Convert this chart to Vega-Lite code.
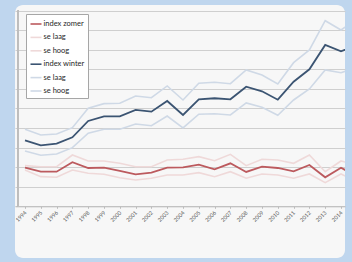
{
  "$schema": "https://vega.github.io/schema/vega-lite/v6.json",
  "width": 330,
  "height": 253,
  "autosize": {"type": "none"},
  "padding": {"left": 15, "top": 5, "right": 7, "bottom": 4},
  "background": "#bfd6ee",
  "config": {
    "view": {"fill": "#f7f7f7", "stroke": null, "cornerRadius": 8},
    "font": "Lato"
  },
  "data": {
    "values": [
      {"year": 1994, "index zomer": 98.7, "zomer: se laag": 92.8, "zomer: se hoog": 103.8, "index winter": 168.7, "winter: se laag": 141.4, "winter: se hoog": 196.8},
      {"year": 1995, "index zomer": 88.4, "zomer: se laag": 75.7, "zomer: se hoog": 101.2, "index winter": 155.9, "winter: se laag": 130.4, "winter: se hoog": 182.3},
      {"year": 1996, "index zomer": 88.4, "zomer: se laag": 74.1, "zomer: se hoog": 101.2, "index winter": 160.0, "winter: se laag": 133.7, "winter: se hoog": 184.8},
      {"year": 1997, "index zomer": 112.5, "zomer: se laag": 92.8, "zomer: se hoog": 131.1, "index winter": 176.4, "winter: se laag": 149.8, "winter: se hoog": 200.9},
      {"year": 1998, "index zomer": 97.9, "zomer: se laag": 84.4, "zomer: se hoog": 115.8, "index winter": 218.0, "winter: se laag": 186.6, "winter: se hoog": 250.5},
      {"year": 1999, "index zomer": 98.7, "zomer: se laag": 81.8, "zomer: se hoog": 115.8, "index winter": 230.0, "winter: se laag": 196.8, "winter: se hoog": 262.3},
      {"year": 2000, "index zomer": 90.2, "zomer: se laag": 73.1, "zomer: se hoog": 109.9, "index winter": 230.0, "winter: se laag": 196.8, "winter: se hoog": 263.3},
      {"year": 2001, "index zomer": 81.8, "zomer: se laag": 67.2, "zomer: se hoog": 101.2, "index winter": 246.2, "winter: se laag": 210.4, "winter: se hoog": 281.9},
      {"year": 2002, "index zomer": 85.9, "zomer: se laag": 71.6, "zomer: se hoog": 101.2, "index winter": 241.8, "winter: se laag": 206.0, "winter: se hoog": 277.6},
      {"year": 2003, "index zomer": 98.7, "zomer: se laag": 80.0, "zomer: se hoog": 118.4, "index winter": 269.2, "winter: se laag": 230.8, "winter: se hoog": 307.5},
      {"year": 2004, "index zomer": 99.7, "zomer: se laag": 80.0, "zomer: se hoog": 120.1, "index winter": 233.4, "winter: se laag": 200.2, "winter: se hoog": 271.7},
      {"year": 2005, "index zomer": 106.3, "zomer: se laag": 85.9, "zomer: se hoog": 126.8, "index winter": 273.5, "winter: se laag": 235.2, "winter: se hoog": 314.4},
      {"year": 2006, "index zomer": 94.6, "zomer: se laag": 75.7, "zomer: se hoog": 116.6, "index winter": 276.1, "winter: se laag": 236.7, "winter: se hoog": 317.0},
      {"year": 2007, "index zomer": 109.9, "zomer: se laag": 88.4, "zomer: se hoog": 132.9, "index winter": 273.5, "winter: se laag": 233.4, "winter: se hoog": 313.4},
      {"year": 2008, "index zomer": 87.7, "zomer: se laag": 71.6, "zomer: se hoog": 103.8, "index winter": 305.7, "winter: se laag": 264.1, "winter: se hoog": 348.4},
      {"year": 2009, "index zomer": 101.2, "zomer: se laag": 82.6, "zomer: se hoog": 120.1, "index winter": 294.0, "winter: se laag": 253.1, "winter: se hoog": 335.6},
      {"year": 2010, "index zomer": 97.9, "zomer: se laag": 80.0, "zomer: se hoog": 118.4, "index winter": 272.5, "winter: se laag": 232.6, "winter: se hoog": 312.6},
      {"year": 2011, "index zomer": 89.5, "zomer: se laag": 71.6, "zomer: se hoog": 109.9, "index winter": 318.5, "winter: se laag": 271.7, "winter: se hoog": 367.1},
      {"year": 2012, "index zomer": 105.6, "zomer: se laag": 82.6, "zomer: se hoog": 131.1, "index winter": 350.2, "winter: se laag": 299.8, "winter: se hoog": 399.5},
      {"year": 2013, "index zomer": 74.1, "zomer: se laag": 60.3, "zomer: se hoog": 88.4, "index winter": 412.3, "winter: se laag": 348.4, "winter: se hoog": 474.4},
      {"year": 2014, "index zomer": 98.7, "zomer: se laag": 82.6, "zomer: se hoog": 115.8, "index winter": 396.2, "winter: se laag": 341.5, "winter: se hoog": 450.7},
      {"year": 2015, "index zomer": 76.4, "zomer: se laag": 64.4, "zomer: se hoog": 105.6, "index winter": 411.8, "winter: se laag": 355.1, "winter: se hoog": 477.5}
    ]
  },
  "transform": [
    {"fold": ["index zomer", "zomer: se laag", "zomer: se hoog", "index winter", "winter: se laag", "winter: se hoog"], "as": ["reeks", "waarde"]}
  ],
  "layer": [
    {
      "mark": {"type": "rule", "color": "#bdbdbd", "strokeWidth": 1},
      "encoding": {
        "x": {"datum": 1993.56, "type": "quantitative"},
        "y": {"datum": 0, "type": "quantitative"},
        "y2": {"datum": 500}
      }
    },
    {
      "transform": [{"filter": "indexof(datum.reeks, 'se ') >= 0"}],
      "mark": {"type": "line", "clip": true, "strokeWidth": 1.6},
      "encoding": {
        "x": {"field": "year", "type": "quantitative"},
        "y": {"field": "waarde", "type": "quantitative"},
        "color": {"field": "reeks", "type": "nominal"},
        "detail": {"field": "reeks"}
      }
    },
    {
      "transform": [{"filter": "indexof(datum.reeks, 'index') >= 0"}],
      "mark": {"type": "line", "clip": true, "strokeWidth": 1.8},
      "encoding": {
        "x": {"field": "year", "type": "quantitative"},
        "y": {"field": "waarde", "type": "quantitative"},
        "color": {"field": "reeks", "type": "nominal"},
        "detail": {"field": "reeks"}
      }
    }
  ],
  "resolve": {"scale": {"color": "shared"}},
  "encoding": {
    "x": {
      "type": "quantitative",
      "scale": {"domain": [1993.367, 2014.253], "nice": false, "zero": false},
      "axis": {
        "title": null,
        "offset": -51.7,
        "values": [1994, 1995, 1996, 1997, 1998, 1999, 2000, 2001, 2002, 2003, 2004, 2005, 2006, 2007, 2008, 2009, 2010, 2011, 2012, 2013, 2014],
        "format": "d",
        "labelAngle": -45,
        "labelAlign": "right",
        "labelBaseline": "middle",
        "labelFontSize": 5.5,
        "labelColor": "#595959",
        "labelPadding": 3,
        "labelOverlap": false,
        "labelFlush": false,
        "tickSize": 2,
        "tickColor": "#bdbdbd",
        "domainColor": "#bdbdbd",
        "grid": false
      }
    },
    "y": {
      "type": "quantitative",
      "scale": {"domain": [-132.2, 514.5], "nice": false, "zero": false},
      "axis": {
        "title": null,
        "labels": false,
        "ticks": false,
        "domain": false,
        "grid": true,
        "gridColor": "#cfcfcf",
        "gridWidth": 1,
        "values": [0, 50, 100, 150, 200, 250, 300, 350, 400, 450, 500]
      }
    },
    "color": {
      "type": "nominal",
      "scale": {
        "domain": ["index zomer", "zomer: se laag", "zomer: se hoog", "index winter", "winter: se laag", "winter: se hoog"],
        "range": ["#bc5a5e", "#efd9d9", "#efd9d9", "#3b5472", "#cfd9e6", "#cfd9e6"]
      },
      "legend": {
        "title": null,
        "orient": "none",
        "legendX": 11,
        "legendY": 9,
        "fillColor": "#ffffff",
        "strokeColor": "#a6a6a6",
        "padding": 3.5,
        "symbolType": "stroke",
        "symbolSize": 121,
        "symbolStrokeWidth": 1.6,
        "labelFontSize": 7.5,
        "labelColor": "#262626",
        "labelOffset": 1,
        "rowPadding": 3.4,
        "labelExpr": "indexof(datum.label, ': ') >= 0 ? substring(datum.label, indexof(datum.label, ': ') + 2) : datum.label"
      }
    }
  }
}
